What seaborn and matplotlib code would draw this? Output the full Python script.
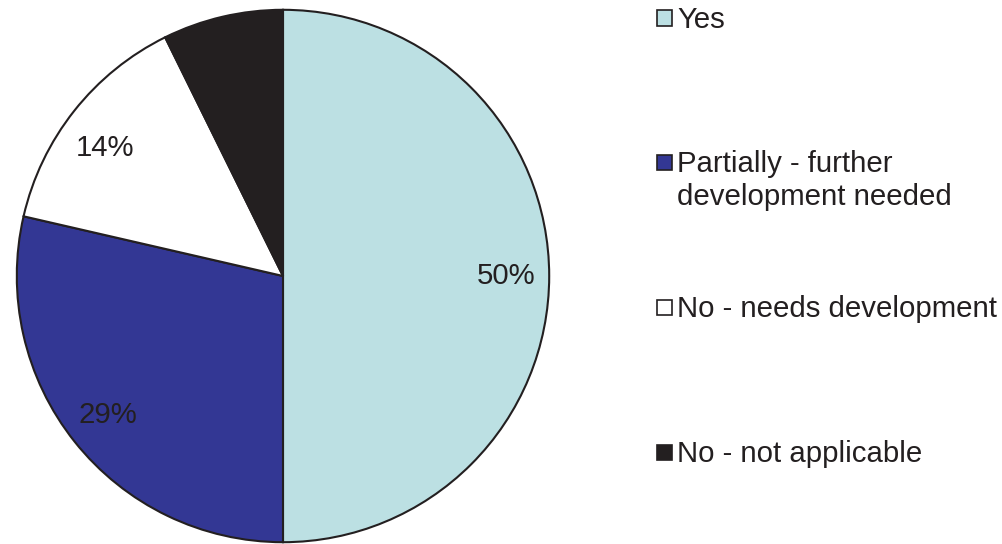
import matplotlib
matplotlib.use("Agg")
import matplotlib.pyplot as plt
from matplotlib.patches import Rectangle
import seaborn as sns

categories = ["Yes", "Partially - further\ndevelopment needed",
              "No - needs development", "No - not applicable"]
values = [50, 28.6, 14.1, 7.3]
pct_labels = ["50%", "29%", "14%", ""]
colors = ["#BCE0E3", "#333794", "#FFFFFF", "#231F20"]
legend_y = [18, 162, 307, 452]  # pixel centres of legend squares (from top)

sns.set_theme(style="white")
plt.rcParams['font.family'] = ['Liberation Sans', 'DejaVu Sans']

W, H = 1003, 544
FS = 21.2
LINE = 33  # px between lines of a legend entry
fig = plt.figure(figsize=(W / 100, H / 100), dpi=100)
cx, cy, r = 283, 276, 267
ax = fig.add_axes([(cx - r) / W, (H - cy - r) / H, 2 * r / W, 2 * r / H])
wedges, texts, autotexts = ax.pie(
    values, colors=colors, startangle=90, counterclock=False,
    autopct=lambda p: "", pctdistance=0.84, radius=1,
    wedgeprops=dict(edgecolor="#231F20", linewidth=1.5))
for at, lab in zip(autotexts, pct_labels):
    at.set_text(lab)
    at.set_fontsize(FS)
    at.set_color("#231F20")
# small nudge of the 14% label to match the reference placement
x14, y14 = autotexts[2].get_position()
autotexts[2].set_position((x14 - 0.01, y14 - 0.04))
ax.set_xlim(-1.003, 1.003)
ax.set_ylim(-1.003, 1.003)
ax.set_aspect("auto")
ax.axis("off")

sq = 15
for cat, col, y in zip(categories, colors, legend_y):
    fig.patches.append(Rectangle(((664 - sq / 2) / W, (H - y - sq / 2) / H),
                                 sq / W, sq / H, transform=fig.transFigure,
                                 facecolor=col, edgecolor="#231F20", linewidth=1.2))
    for i, line in enumerate(cat.split("\n")):
        # baseline of each line: first one ~10px below the square centre
        fig.text(677 / W, (H - y - 10 - i * LINE) / H, line, fontsize=FS,
                 color="#231F20", va="baseline", ha="left")

fig.savefig("out.png", dpi=100, facecolor="white")
